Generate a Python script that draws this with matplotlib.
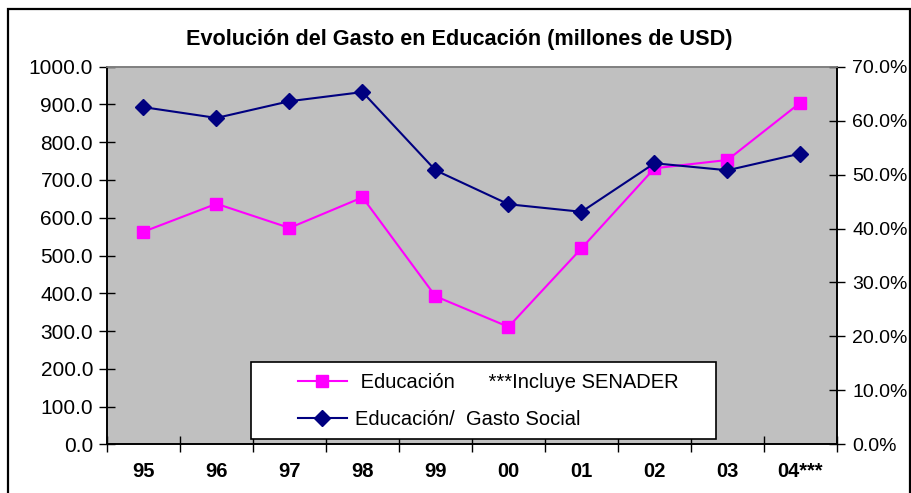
import matplotlib
matplotlib.use("Agg")
import matplotlib.pyplot as plt
from matplotlib.patches import Rectangle
from matplotlib.lines import Line2D
from matplotlib.ticker import FixedLocator, FuncFormatter

plt.rcParams['font.family'] = ['Liberation Sans', 'DejaVu Sans']

years = ["95", "96", "97", "98", "99", "00", "01", "02", "03", "04***"]
educacion = [563, 637, 573, 654, 392, 311, 519, 731, 753, 905]
edu_gasto_social = [62.5, 60.5, 63.6, 65.3, 50.8, 44.5, 43.1, 52.1, 50.8, 53.9]

title = "Evolución del Gasto en Educación (millones de USD)"
label_edu = " Educación      ***Incluye SENADER"
label_ratio = "Educación/  Gasto Social"

W, H = 912, 493
fig = plt.figure(figsize=(W / 100, H / 100), dpi=100)
fig.patch.set_facecolor("white")

ax = fig.add_axes([107 / W, 1 - 444.3 / H, (837 - 107) / W, (444.3 - 66.7) / H])
ax.set_facecolor("#C0C0C0")
ax2 = ax.twinx()

x = list(range(len(years)))
ax.plot(x, educacion, color="#FF00FF", lw=1.5, marker="s", ms=8, zorder=3)
ax2.plot(x, edu_gasto_social, color="#000080", lw=1.5, marker="D", ms=8, zorder=3)

ax.set_xlim(-0.5, len(years) - 0.5)
ax.set_ylim(0, 1000)
ax2.set_ylim(0, 70)

ax.set_yticks([i * 100 for i in range(11)])
ax.yaxis.set_major_formatter(FuncFormatter(lambda v, p: f"{v:.1f}"))
ax2.set_yticks([i * 10 for i in range(8)])
ax2.yaxis.set_major_formatter(FuncFormatter(lambda v, p: f"{v:.1f}%"))

ax.set_xticks(x)
ax.set_xticklabels(years, fontweight="bold")
ax.xaxis.set_minor_locator(FixedLocator([i - 0.5 for i in range(len(years) + 1)]))
ax.tick_params(axis="x", which="major", length=0, labelsize=14.5, pad=13)
ax.tick_params(axis="x", which="minor", length=11, direction="inout", width=1)
ax.tick_params(axis="y", length=11, direction="inout", width=1, labelsize=15, pad=4.5)
ax2.tick_params(axis="y", length=11, direction="inout", width=1, labelsize=14, pad=5.5)

for a in (ax, ax2):
    for s in ("left", "right", "bottom"):
        a.spines[s].set_color("black")
        a.spines[s].set_linewidth(1.2)
    a.spines["top"].set_color("#808080")
    a.spines["top"].set_linewidth(1.2)

fig.text(459 / W, 1 - 40 / H, title, ha="center", va="center",
         fontsize=15.6, fontweight="bold")

# legend box
rect = Rectangle((0.197, 0.014), 0.637, 0.204, transform=ax.transAxes,
                 facecolor="white", edgecolor="black", lw=1.2, zorder=5)
ax2.add_patch(rect)
handles = [
    Line2D([], [], color="#FF00FF", lw=1.5, marker="s", ms=8),
    Line2D([], [], color="#000080", lw=1.5, marker="D", ms=8),
]
leg = ax2.legend(handles, [label_edu, label_ratio], loc="upper left",
                 bbox_to_anchor=(0.262, 0.19), frameon=False, fontsize=14.5,
                 handlelength=2.4, handletextpad=0.4, labelspacing=0.9,
                 borderpad=0, borderaxespad=0)
leg.set_zorder(6)

# outer border
fig.add_artist(Rectangle((8 / W, -0.02), (910 - 8) / W, (493 - 9) / H + 0.02,
                         transform=fig.transFigure, fill=False,
                         edgecolor="black", lw=1.6))

fig.savefig("out.png", dpi=100)
